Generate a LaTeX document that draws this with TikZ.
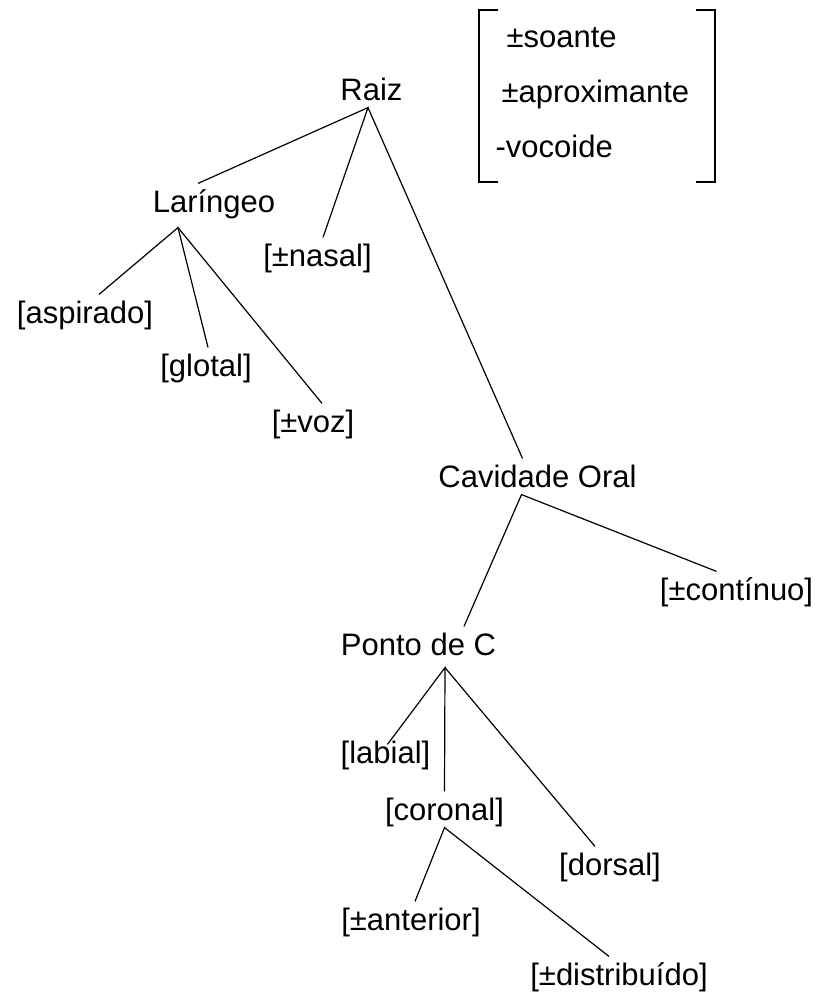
\documentclass[tikz,border=0pt]{standalone}
\usepackage{fontspec}
\setmainfont{Liberation Sans}
\usetikzlibrary{positioning}

\begin{document}
\begin{tikzpicture}[x=1pt, y=-1pt, line width=1.2pt,
    every node/.style={inner sep=0pt, anchor=base, text height=28pt, text depth=7pt,
        font=\fontsize{31}{37}\selectfont},
    feat/.style={anchor=base west},
    bracket/.style={line width=2pt}]
    \useasboundingbox (0,0) rectangle (819,996);

    \node (raiz)  at (371.5,100) {Raiz};
    \node (lar)   at (214,212)   {Laríngeo};
    \node (nasal) at (317.5,266) {[±nasal]};
    \node (asp)   at (85,323)    {[aspirado]};
    \node (glot)  at (206,376)   {[glotal]};
    \node (voz)   at (313,432)   {[±voz]};
    \node (cav)   at (537.5,487) {Cavidade Oral};
    \node (cont)  at (736.5,600) {[±contínuo]};
    \node (ponto) at (418.5,655) {Ponto de C};
    \node (lab)   at (385.5,763) {[labial]};
    \node (cor)   at (444.5,820) {[coronal]};
    \node (dor)   at (610,875)   {[dorsal]};
    \node (ant)   at (411,930)   {[±anterior]};
    \node (dist)  at (619,985)   {[±distribuído]};

    \node[feat] (son)  at (506,47)  {±soante};
    \node[feat] (apr)  at (501,102) {±aproximante};
    \node[feat] (voc)  at (495,157) {-vocoide};
    \draw[bracket] (498,10) -| (479,182) -- (498,182);
    \draw[bracket] (696,10) -| (715,182) -- (696,182);

    \draw ([xshift=-16pt]lar.north) -- ([xshift=-3.5pt]raiz.south) -- ([xshift=5.5pt]nasal.north);
    \draw ([xshift=-3.5pt]raiz.south) -- ([xshift=-15pt]cav.north);
    \draw ([xshift=14pt]asp.north) -- ([xshift=-36pt, yshift=-8pt]lar.south) -- ([xshift=2pt]glot.north);
    \draw ([xshift=-36pt, yshift=-8pt]lar.south) -- ([xshift=9pt]voz.north);
    \draw ([xshift=45.5pt]ponto.north) -- ([xshift=-16pt]cav.south) -- ([xshift=-20pt]cont.north);
    \draw ([xshift=2pt, yshift=-10pt]lab.north) -- ([xshift=26.5pt, yshift=-5pt]ponto.south) -- (cor.north);
    \draw ([xshift=26.5pt, yshift=-5pt]ponto.south) -- ([xshift=-15pt]dor.north);
    \draw ([xshift=4pt]ant.north) -- (cor.south) -- ([xshift=-10pt]dist.north);
\end{tikzpicture}
\end{document}
